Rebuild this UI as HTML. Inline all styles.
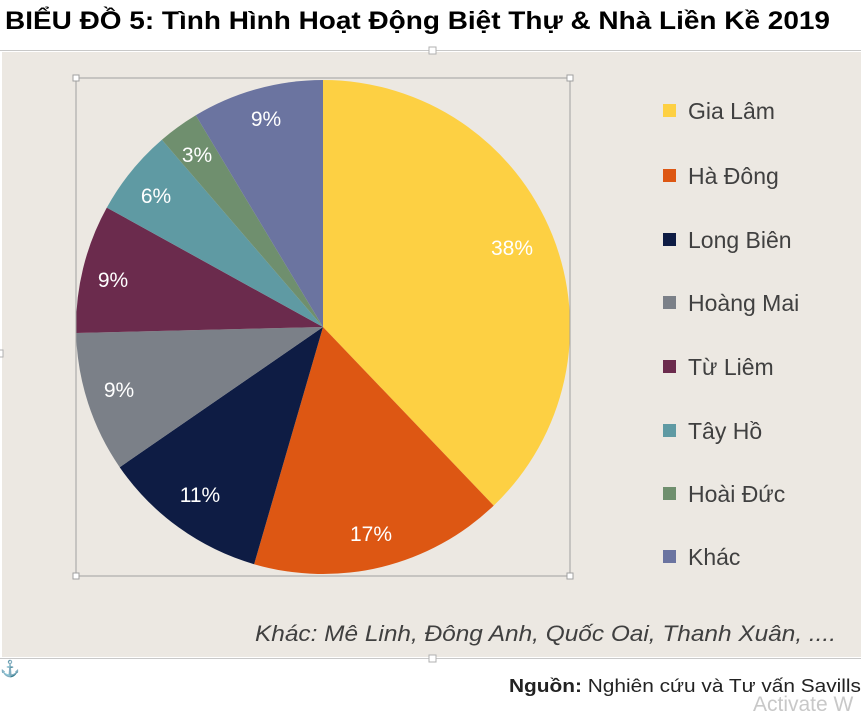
<!DOCTYPE html>
<html><head><meta charset="utf-8"><style>
html,body{margin:0;padding:0;background:#fff;}
svg{display:block;font-family:"Liberation Sans",sans-serif;}
</style></head><body>
<svg width="861" height="711" viewBox="0 0 861 711">
<rect x="0" y="0" width="861" height="711" fill="#fff"/>
<text x="5" y="29" font-size="25" font-weight="bold" fill="#000" textLength="825" lengthAdjust="spacingAndGlyphs">BIỂU ĐỒ 5: Tình Hình Hoạt Động Biệt Thự &amp; Nhà Liền Kề 2019</text>
<rect x="2" y="52" width="859" height="605" fill="#ece8e2"/>
<line x1="0" y1="50.5" x2="861" y2="50.5" stroke="#c8c8c8" stroke-width="1"/>
<line x1="0" y1="658.5" x2="861" y2="658.5" stroke="#c8c8c8" stroke-width="1"/>
<rect x="429" y="47" width="7" height="7" fill="#fff" stroke="#b0b0b0"/>
<rect x="429" y="655" width="7" height="7" fill="#fff" stroke="#b0b0b0"/>
<rect x="-3" y="350" width="6" height="7" fill="#fff" stroke="#b0b0b0"/>
<g stroke="none">
<path d="M323,327 L323,80 A247,247 0 0 1 493.7,505.6 Z" fill="#fdd043"/>
<path d="M323,327 L493.7,505.6 A247,247 0 0 1 254.1,564.2 Z" fill="#dd5713"/>
<path d="M323,327 L254.1,564.2 A247,247 0 0 1 119.7,467.2 Z" fill="#0e1c44"/>
<path d="M323,327 L119.7,467.2 A247,247 0 0 1 76.1,333 Z" fill="#7b8088"/>
<path d="M323,327 L76.1,333 A247,247 0 0 1 106.8,207.6 Z" fill="#6b2b4d"/>
<path d="M323,327 L106.8,207.6 A247,247 0 0 1 161.9,139.7 Z" fill="#5f9aa3"/>
<path d="M323,327 L161.9,139.7 A247,247 0 0 1 195.8,115.3 Z" fill="#6f8f6e"/>
<path d="M323,327 L195.8,115.3 A247,247 0 0 1 323,80 Z" fill="#6b74a0"/>
</g>
<rect x="76" y="78" width="494" height="498" fill="none" stroke="#a0a0a0" stroke-width="1"/>
<g fill="#fff" stroke="#a0a0a0">
<rect x="73" y="75" width="6" height="6"/><rect x="567" y="75" width="6" height="6"/>
<rect x="73" y="573" width="6" height="6"/><rect x="567" y="573" width="6" height="6"/>
</g>
<g fill="#fff" font-size="21" text-anchor="middle">
<text x="512" y="255">38%</text>
<text x="371" y="541">17%</text>
<text x="200" y="502">11%</text>
<text x="119" y="397">9%</text>
<text x="113" y="287">9%</text>
<text x="156" y="203">6%</text>
<text x="197" y="162">3%</text>
<text x="266" y="126">9%</text>
</g>
<g font-size="23" fill="#404040">
<rect x="663" y="104" width="13" height="13" fill="#fdd043"/><text x="688" y="119">Gia Lâm</text>
<rect x="663" y="169" width="13" height="13" fill="#dd5713"/><text x="688" y="184">Hà Đông</text>
<rect x="663" y="233" width="13" height="13" fill="#0e1c44"/><text x="688" y="248">Long Biên</text>
<rect x="663" y="296" width="13" height="13" fill="#7b8088"/><text x="688" y="311">Hoàng Mai</text>
<rect x="663" y="360" width="13" height="13" fill="#6b2b4d"/><text x="688" y="375">Từ Liêm</text>
<rect x="663" y="424" width="13" height="13" fill="#5f9aa3"/><text x="688" y="439">Tây Hồ</text>
<rect x="663" y="487" width="13" height="13" fill="#6f8f6e"/><text x="688" y="502">Hoài Đức</text>
<rect x="663" y="550" width="13" height="13" fill="#6b74a0"/><text x="688" y="565">Khác</text>
</g>
<text x="836" y="641" font-size="22" font-style="italic" fill="#404040" text-anchor="end" textLength="581" lengthAdjust="spacingAndGlyphs">Khác: Mê Linh, Đông Anh, Quốc Oai, Thanh Xuân, ....</text>
<text x="0" y="674" font-size="16" fill="#3a6ea5">⚓</text>
<text x="509" y="692" font-size="18" fill="#222" textLength="352" lengthAdjust="spacingAndGlyphs"><tspan font-weight="bold">Nguồn:</tspan> Nghiên cứu và Tư vấn Savills</text>
<text x="753" y="711" font-size="21" fill="#c8c8c8">Activate W</text>
</svg>
</body></html>
